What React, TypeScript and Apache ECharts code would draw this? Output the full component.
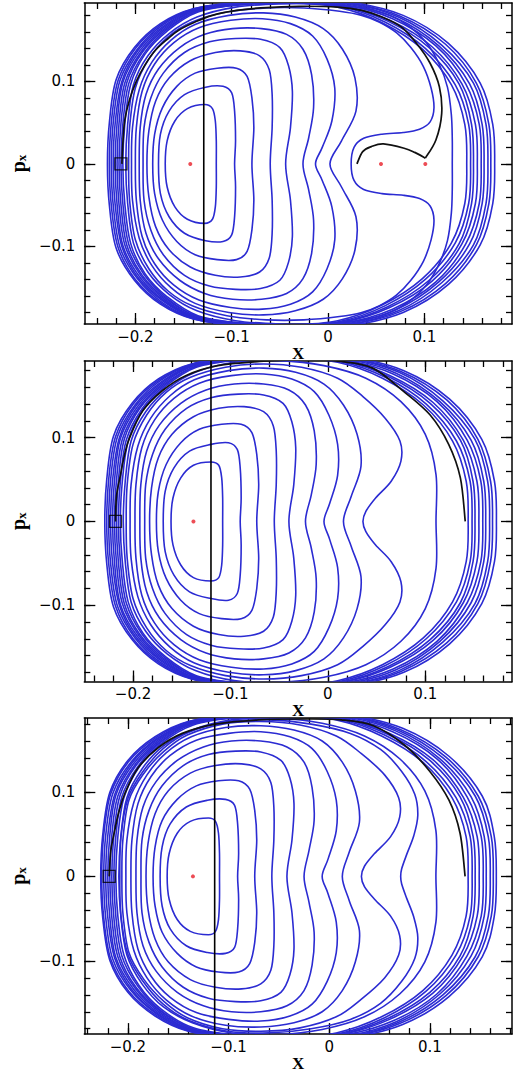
import React, { useEffect, useRef } from "react";
import * as echarts from "echarts";

type Pt = [number, number];

// ---------- axis ticks ----------
const X_MAJOR_TICKS = [-0.2, -0.1, 0, 0.1];
const X_MINOR_TICKS = [-0.24, -0.22, -0.2, -0.18, -0.16, -0.14, -0.12, -0.1, -0.08, -0.06, -0.04, -0.02, 0, 0.02, 0.04, 0.06, 0.08, 0.1, 0.12, 0.14, 0.16, 0.18];
const Y_MAJOR_TICKS = [-0.1, 0, 0.1];
const Y_MINOR_TICKS = [-0.18, -0.16, -0.14, -0.12, -0.1, -0.08, -0.06, -0.04, -0.02, 0, 0.02, 0.04, 0.06, 0.08, 0.1, 0.12, 0.14, 0.16, 0.18];

// ---------- axis extents (panel 1, 2, 3) ----------
const X_EXTENTS: Pt[] = [[-0.253, 0.191], [-0.25, 0.189], [-0.2433, 0.1816]];
const Y_EXTENTS: Pt[] = [[-0.194, 0.195], [-0.191, 0.1915], [-0.1864, 0.1872]];

// ---------- outer band of contours, panels 1-2 (upper halves, x, px) ----------
const BAND_C11: Pt[] = [[-0.213,0],[-0.211,0.048],[-0.205,0.096],[-0.190,0.133],[-0.167,0.161],[-0.135,0.184],[-0.089,0.193],[-0.040,0.195],[0.010,0.190],[0.056,0.171],[0.098,0.139],[0.128,0.096],[0.142,0.048],[0.144,0]];
const BAND_C12: Pt[] = [[-0.215,0],[-0.213,0.048],[-0.207,0.097],[-0.191,0.134],[-0.168,0.162],[-0.136,0.185],[-0.089,0.193],[-0.039,0.195],[0.012,0.191],[0.059,0.172],[0.101,0.140],[0.132,0.096],[0.146,0.048],[0.148,0]];
const BAND_C13: Pt[] = [[-0.217,0],[-0.215,0.049],[-0.209,0.098],[-0.193,0.135],[-0.169,0.163],[-0.136,0.185],[-0.089,0.194],[-0.039,0.196],[0.013,0.192],[0.062,0.173],[0.105,0.141],[0.136,0.097],[0.149,0.048],[0.151,0]];
const BAND_C14: Pt[] = [[-0.219,0],[-0.217,0.049],[-0.211,0.098],[-0.194,0.136],[-0.170,0.164],[-0.137,0.186],[-0.089,0.194],[-0.038,0.196],[0.015,0.192],[0.064,0.174],[0.108,0.142],[0.139,0.097],[0.153,0.048],[0.155,0]];
const BAND_C15: Pt[] = [[-0.221,0],[-0.219,0.049],[-0.213,0.099],[-0.1955,0.137],[-0.1705,0.1655],[-0.138,0.186],[-0.090,0.195],[-0.038,0.197],[0.016,0.193],[0.067,0.176],[0.112,0.143],[0.143,0.097],[0.157,0.048],[0.159,0]];
const BAND_C16: Pt[] = [[-0.223,0],[-0.221,0.049],[-0.214,0.100],[-0.197,0.138],[-0.171,0.1666],[-0.138,0.187],[-0.090,0.195],[-0.037,0.197],[0.018,0.194],[0.070,0.177],[0.115,0.143],[0.147,0.097],[0.160,0.048],[0.162,0]];
const BAND_C17: Pt[] = [[-0.225,0],[-0.223,0.050],[-0.216,0.101],[-0.198,0.139],[-0.172,0.168],[-0.139,0.187],[-0.090,0.195],[-0.036,0.197],[0.019,0.195],[0.073,0.178],[0.118,0.144],[0.151,0.098],[0.164,0.048],[0.166,0]];
const BAND_C18: Pt[] = [[-0.227,0],[-0.225,0.050],[-0.218,0.101],[-0.200,0.140],[-0.173,0.169],[-0.139,0.188],[-0.090,0.196],[-0.036,0.198],[0.021,0.195],[0.075,0.179],[0.122,0.145],[0.154,0.098],[0.167,0.048],[0.169,0]];
const BAND_C19: Pt[] = [[-0.229,0],[-0.227,0.050],[-0.220,0.102],[-0.201,0.141],[-0.174,0.170],[-0.140,0.188],[-0.090,0.196],[-0.035,0.198],[0.022,0.196],[0.078,0.180],[0.125,0.146],[0.158,0.098],[0.171,0.048],[0.173,0]];
const OUTER_BAND = [BAND_C11, BAND_C12, BAND_C13, BAND_C14, BAND_C15, BAND_C16, BAND_C17, BAND_C18, BAND_C19];

// ---------- panel 1 ----------
const P1_INNER: Pt[][] = [
  [[-0.169,0],[-0.167,0.028],[-0.159,0.052],[-0.146,0.067],[-0.128,0.072],[-0.120,0.067],[-0.117,0.052],[-0.116,0.028],[-0.116,0]],
  [[-0.176,0],[-0.174,0.036],[-0.165,0.064],[-0.149,0.084],[-0.127,0.093],[-0.109,0.094],[-0.100,0.086],[-0.097,0.064],[-0.096,0.028],[-0.097,0]],
  [[-0.182,0],[-0.180,0.036],[-0.172,0.068],[-0.157,0.094],[-0.138,0.110],[-0.115,0.116],[-0.095,0.116],[-0.084,0.106],[-0.079,0.080],[-0.077,0.044],[-0.079,0]],
  [[-0.188,0],[-0.186,0.040],[-0.179,0.076],[-0.165,0.104],[-0.143,0.125],[-0.117,0.135],[-0.091,0.137],[-0.071,0.131],[-0.061,0.114],[-0.058,0.084],[-0.058,0.044],[-0.060,0]],
  [[-0.192,0],[-0.191,0.044],[-0.184,0.080],[-0.171,0.110],[-0.149,0.135],[-0.123,0.148],[-0.096,0.152],[-0.070,0.151],[-0.050,0.141],[-0.041,0.119],[-0.037,0.088],[-0.039,0.044],[-0.044,0]],
  [[-0.196,0],[-0.195,0.044],[-0.189,0.084],[-0.176,0.115],[-0.154,0.141],[-0.128,0.157],[-0.099,0.164],[-0.069,0.164],[-0.043,0.157],[-0.026,0.139],[-0.017,0.108],[-0.015,0.068],[-0.020,0.032],[-0.026,0]],
  [[-0.200,0],[-0.199,0.044],[-0.193,0.088],[-0.180,0.121],[-0.160,0.147],[-0.134,0.165],[-0.101,0.174],[-0.068,0.176],[-0.039,0.170],[-0.016,0.155],[-0.001,0.127],[0.007,0.092],[0.004,0.052],[-0.006,0.020],[-0.013,0]],
  [[-0.204,0],[-0.203,0.044],[-0.196,0.090],[-0.183,0.123],[-0.163,0.150],[-0.138,0.169],[-0.103,0.180],[-0.067,0.183],[-0.034,0.178],[-0.005,0.164],[0.015,0.139],[0.028,0.104],[0.029,0.064],[0.014,0.028],[0.002,0]],
  [[-0.207,0],[-0.206,0.044],[-0.200,0.092],[-0.186,0.127],[-0.166,0.154],[-0.141,0.172],[-0.105,0.184],[-0.064,0.189],[-0.025,0.189],[0.012,0.185],[0.035,0.180],[0.053,0.172],[0.071,0.159],[0.086,0.141],[0.099,0.118],[0.107,0.092],[0.110,0.068],[0.106,0.051],[0.095,0.042],[0.078,0.038],[0.056,0.036],[0.037,0.031],[0.027,0.020],[0.024,0]],
  [[-0.210,0],[-0.208,0.048],[-0.202,0.096],[-0.187,0.131],[-0.165,0.158],[-0.136,0.178],[-0.096,0.190],[-0.050,0.194],[-0.004,0.194],[0.036,0.189],[0.064,0.180],[0.085,0.166],[0.102,0.147],[0.115,0.122],[0.124,0.093],[0.128,0.060],[0.129,0.030],[0.129,0]],
];
const P1_ORBIT_A: Pt[] = [[-0.214,0],[-0.213,0.025],[-0.211,0.053],[-0.206,0.078],[-0.199,0.100],[-0.190,0.120],[-0.179,0.138],[-0.166,0.152],[-0.155,0.162],[-0.138,0.172],[-0.120,0.180],[-0.095,0.186],[-0.070,0.189],[-0.030,0.191],[0.010,0.190],[0.035,0.186],[0.056,0.178],[0.076,0.166],[0.092,0.146],[0.106,0.122],[0.1156,0.0935],[0.118,0.061],[0.112,0.029],[0.101,0.007]];
const P1_ORBIT_B: Pt[] = [[0.101,0.007],[0.090,0.014],[0.079,0.019],[0.0575,0.0242],[0.045,0.021],[0.036,0.0149],[0.030,0]];
const P1_VLINE_X = -0.129;
const P1_DOTS: Pt[] = [[-0.143,0],[0.055,0],[0.101,0]];
const P1_SQUARE: Pt[] = [[-0.215,0]];

// ---------- panel 2 ----------
const P2_INNER: Pt[][] = [
  [[-0.161,0],[-0.159,0.028],[-0.151,0.052],[-0.138,0.067],[-0.120,0.071],[-0.112,0.067],[-0.109,0.052],[-0.108,0.028],[-0.108,0]],
  [[-0.169,0],[-0.167,0.036],[-0.158,0.064],[-0.142,0.084],[-0.120,0.092],[-0.102,0.094],[-0.093,0.086],[-0.090,0.064],[-0.089,0.028],[-0.090,0]],
  [[-0.176,0],[-0.174,0.036],[-0.166,0.068],[-0.151,0.094],[-0.132,0.110],[-0.109,0.116],[-0.089,0.116],[-0.078,0.106],[-0.073,0.080],[-0.071,0.044],[-0.073,0]],
  [[-0.183,0],[-0.181,0.040],[-0.174,0.076],[-0.160,0.104],[-0.138,0.125],[-0.112,0.135],[-0.086,0.137],[-0.066,0.131],[-0.056,0.114],[-0.053,0.084],[-0.053,0.044],[-0.055,0]],
  [[-0.188,0],[-0.187,0.044],[-0.180,0.080],[-0.167,0.110],[-0.145,0.135],[-0.119,0.148],[-0.092,0.152],[-0.066,0.151],[-0.046,0.141],[-0.037,0.119],[-0.033,0.088],[-0.035,0.044],[-0.040,0]],
  [[-0.193,0],[-0.192,0.044],[-0.186,0.084],[-0.173,0.115],[-0.151,0.141],[-0.125,0.157],[-0.096,0.164],[-0.066,0.164],[-0.040,0.157],[-0.023,0.139],[-0.014,0.108],[-0.012,0.068],[-0.017,0.032],[-0.023,0]],
  [[-0.198,0],[-0.197,0.044],[-0.191,0.088],[-0.178,0.121],[-0.158,0.147],[-0.132,0.165],[-0.099,0.174],[-0.066,0.176],[-0.037,0.170],[-0.014,0.155],[0.001,0.127],[0.010,0.092],[0.010,0.055],[0.002,0.022],[-0.004,0]],
  [[-0.203,0],[-0.202,0.044],[-0.195,0.090],[-0.182,0.123],[-0.162,0.150],[-0.137,0.169],[-0.102,0.180],[-0.066,0.183],[-0.033,0.178],[-0.004,0.164],[0.016,0.139],[0.030,0.104],[0.034,0.066],[0.024,0.030],[0.016,0]],
  [[-0.207,0],[-0.206,0.044],[-0.200,0.092],[-0.186,0.127],[-0.166,0.154],[-0.141,0.172],[-0.105,0.184],[-0.066,0.188],[-0.027,0.184],[0.010,0.171],[0.036,0.149],[0.059,0.123],[0.074,0.096],[0.075,0.072],[0.065,0.048],[0.049,0.028],[0.039,0.012],[0.036,0]],
  [[-0.210,0],[-0.208,0.048],[-0.202,0.096],[-0.187,0.131],[-0.165,0.158],[-0.136,0.178],[-0.096,0.190],[-0.050,0.192],[-0.004,0.186],[0.039,0.171],[0.075,0.143],[0.100,0.104],[0.111,0.056],[0.111,0]],
];
const P2_ORBIT: Pt[] = [[-0.218,0],[-0.217,0.030],[-0.213,0.055],[-0.209,0.078],[-0.2035,0.100],[-0.190,0.132],[-0.170,0.156],[-0.146,0.174],[-0.113,0.186],[-0.070,0.191],[-0.027,0.193],[0.013,0.191],[0.046,0.183],[0.078,0.155],[0.105,0.127],[0.124,0.092],[0.136,0.052],[0.141,0]];
const P2_VLINE_X = -0.12;
const P2_DOTS: Pt[] = [[-0.138,0]];
const P2_SQUARE: Pt[] = [[-0.218,0]];

// ---------- panel 3 ----------
const P3_INNER: Pt[][] = [
  [[-0.161,0],[-0.159,0.027],[-0.151,0.051],[-0.138,0.065],[-0.120,0.069],[-0.113,0.065],[-0.110,0.051],[-0.109,0.027],[-0.109,0]],
  [[-0.168,0],[-0.166,0.035],[-0.158,0.062],[-0.142,0.082],[-0.121,0.090],[-0.103,0.091],[-0.094,0.084],[-0.091,0.062],[-0.090,0.027],[-0.091,0]],
  [[-0.175,0],[-0.173,0.035],[-0.166,0.066],[-0.151,0.091],[-0.132,0.107],[-0.110,0.113],[-0.090,0.113],[-0.079,0.103],[-0.074,0.078],[-0.072,0.043],[-0.074,0]],
  [[-0.182,0],[-0.180,0.039],[-0.173,0.074],[-0.160,0.101],[-0.138,0.122],[-0.113,0.131],[-0.087,0.133],[-0.068,0.127],[-0.058,0.111],[-0.055,0.082],[-0.055,0.043],[-0.057,0]],
  [[-0.187,0],[-0.186,0.043],[-0.179,0.078],[-0.166,0.107],[-0.145,0.131],[-0.120,0.144],[-0.093,0.148],[-0.068,0.147],[-0.048,0.137],[-0.039,0.116],[-0.035,0.086],[-0.037,0.043],[-0.042,0]],
  [[-0.192,0],[-0.191,0.043],[-0.185,0.082],[-0.172,0.112],[-0.151,0.137],[-0.125,0.153],[-0.097,0.160],[-0.068,0.160],[-0.042,0.153],[-0.025,0.135],[-0.017,0.105],[-0.015,0.066],[-0.020,0.031],[-0.025,0]],
  [[-0.197,0],[-0.196,0.043],[-0.190,0.086],[-0.177,0.118],[-0.158,0.143],[-0.132,0.161],[-0.100,0.169],[-0.068,0.171],[-0.039,0.165],[-0.017,0.151],[-0.002,0.124],[0.007,0.090],[0.007,0.054],[-0.001,0.021],[-0.007,0]],
  [[-0.202,0],[-0.201,0.043],[-0.194,0.088],[-0.181,0.120],[-0.162,0.146],[-0.137,0.165],[-0.103,0.176],[-0.068,0.178],[-0.035,0.173],[-0.007,0.160],[0.013,0.135],[0.026,0.101],[0.030,0.064],[0.020,0.029],[0.013,0]],
  [[-0.206,0],[-0.205,0.043],[-0.199,0.090],[-0.184,0.122],[-0.164,0.148],[-0.141,0.167],[-0.106,0.180],[-0.068,0.183],[-0.029,0.179],[0.007,0.166],[0.032,0.145],[0.055,0.120],[0.069,0.093],[0.070,0.070],[0.061,0.047],[0.045,0.027],[0.035,0.012],[0.032,0]],
  [[-0.208,0],[-0.207,0.046],[-0.200,0.092],[-0.185,0.124],[-0.165,0.151],[-0.140,0.170],[-0.101,0.183],[-0.060,0.185],[-0.018,0.180],[0.021,0.169],[0.051,0.150],[0.072,0.124],[0.085,0.097],[0.088,0.072],[0.084,0.048],[0.077,0.026],[0.072,0.009],[0.071,0]],
  [[-0.209,0],[-0.207,0.047],[-0.201,0.093],[-0.186,0.127],[-0.165,0.154],[-0.136,0.173],[-0.097,0.185],[-0.052,0.187],[-0.007,0.181],[0.035,0.166],[0.070,0.139],[0.095,0.101],[0.106,0.054],[0.106,0]],
];
const P3_BAND: Pt[][] = [
  [[-0.212,0],[-0.210,0.047],[-0.204,0.093],[-0.189,0.129],[-0.167,0.157],[-0.135,0.179],[-0.090,0.188],[-0.042,0.190],[0.007,0.185],[0.052,0.166],[0.093,0.135],[0.122,0.093],[0.136,0.047],[0.138,0]],
  [[-0.214,0],[-0.212,0.047],[-0.206,0.094],[-0.190,0.130],[-0.168,0.158],[-0.136,0.180],[-0.090,0.188],[-0.041,0.190],[0.009,0.186],[0.055,0.167],[0.096,0.136],[0.126,0.093],[0.140,0.047],[0.142,0]],
  [[-0.216,0],[-0.214,0.048],[-0.208,0.095],[-0.192,0.131],[-0.168,0.159],[-0.136,0.180],[-0.090,0.189],[-0.041,0.191],[0.010,0.187],[0.058,0.168],[0.100,0.137],[0.130,0.094],[0.143,0.047],[0.145,0]],
  [[-0.218,0],[-0.216,0.048],[-0.210,0.095],[-0.193,0.132],[-0.169,0.160],[-0.137,0.181],[-0.090,0.189],[-0.040,0.191],[0.012,0.187],[0.060,0.169],[0.103,0.138],[0.133,0.094],[0.147,0.047],[0.149,0]],
  [[-0.220,0],[-0.218,0.048],[-0.212,0.096],[-0.1945,0.133],[-0.170,0.161],[-0.138,0.181],[-0.091,0.190],[-0.040,0.192],[0.013,0.188],[0.063,0.171],[0.107,0.139],[0.137,0.094],[0.151,0.047],[0.153,0]],
  [[-0.222,0],[-0.220,0.048],[-0.213,0.097],[-0.196,0.134],[-0.171,0.162],[-0.138,0.182],[-0.091,0.190],[-0.039,0.192],[0.015,0.189],[0.066,0.172],[0.110,0.139],[0.141,0.094],[0.154,0.047],[0.156,0]],
  [[-0.224,0],[-0.222,0.049],[-0.215,0.098],[-0.197,0.135],[-0.171,0.163],[-0.139,0.182],[-0.091,0.190],[-0.038,0.192],[0.016,0.190],[0.068,0.173],[0.113,0.140],[0.145,0.095],[0.158,0.047],[0.160,0]],
  [[-0.226,0],[-0.224,0.049],[-0.217,0.098],[-0.199,0.136],[-0.172,0.164],[-0.139,0.183],[-0.091,0.191],[-0.038,0.193],[0.018,0.190],[0.070,0.174],[0.116,0.141],[0.148,0.095],[0.161,0.047],[0.163,0]],
  [[-0.227,0],[-0.225,0.049],[-0.218,0.099],[-0.200,0.137],[-0.173,0.165],[-0.140,0.183],[-0.091,0.191],[-0.037,0.193],[0.018,0.191],[0.073,0.175],[0.119,0.142],[0.152,0.095],[0.164,0.047],[0.166,0]],
];
const P3_ORBIT: Pt[] = [[-0.2186,0],[-0.217,0.030],[-0.213,0.055],[-0.209,0.076],[-0.203,0.098],[-0.190,0.128],[-0.170,0.152],[-0.146,0.169],[-0.113,0.180],[-0.070,0.185],[-0.027,0.186],[0.012,0.185],[0.044,0.178],[0.075,0.155],[0.100,0.124],[0.119,0.090],[0.130,0.051],[0.135,0]];
const P3_VLINE_X = -0.1138;
const P3_DOTS: Pt[] = [[-0.1354,0]];
const P3_SQUARE: Pt[] = [[-0.2186,0]];

const BLUE = "#2b2bd2";

// contours are symmetric about px = 0: append mirrored lower half (closed loop, no duplicate end point)
function closeAcrossAxis(half: Pt[]): Pt[] {
  const lower = half.slice(1, -1).reverse().map(([x, y]) => [x, -y] as Pt);
  return [...half, ...lower];
}

// Catmull-Rom spline through pixel points -> SVG path (rendering only)
function splinePath(pts: number[][], closed: boolean): string {
  const n = pts.length;
  if (n < 2) return "";
  const get = (i: number) => (closed ? pts[(i + n) % n] : pts[Math.max(0, Math.min(n - 1, i))]);
  let d = `M${pts[0][0].toFixed(2)},${pts[0][1].toFixed(2)}`;
  const segs = closed ? n : n - 1;
  for (let i = 0; i < segs; i++) {
    const p0 = get(i - 1), p1 = get(i), p2 = get(i + 1), p3 = get(i + 2);
    const c1x = p1[0] + (p2[0] - p0[0]) / 6, c1y = p1[1] + (p2[1] - p0[1]) / 6;
    const c2x = p2[0] - (p3[0] - p1[0]) / 6, c2y = p2[1] - (p3[1] - p1[1]) / 6;
    d += ` C${c1x.toFixed(2)},${c1y.toFixed(2)} ${c2x.toFixed(2)},${c2y.toFixed(2)} ${p2[0].toFixed(2)},${p2[1].toFixed(2)}`;
  }
  if (closed) d += " Z";
  return d;
}

function fmt(v: number): string {
  if (Math.abs(v) < 1e-9) return "0";
  const s = String(Math.round(Math.abs(v) * 100) / 100);
  return (v < 0 ? "\u2212" : "") + s;
}

function curveSeries(curves: Pt[][], closed: boolean, axisIdx: number, color: string, width: number, z: number) {
  return {
    type: "custom",
    coordinateSystem: "cartesian2d",
    xAxisIndex: axisIdx,
    yAxisIndex: axisIdx,
    silent: true,
    clip: true,
    z,
    data: curves.map((c, k) => [c[0][0], c[0][1], k]),
    encode: { x: 0, y: 1 },
    renderItem: (params: any, api: any) => {
      const k = api.value(2);
      const src = closed ? closeAcrossAxis(curves[k]) : curves[k];
      const pts = src.map((p) => api.coord(p));
      const cs = params.coordSys;
      return {
        type: "path",
        shape: { pathData: splinePath(pts, closed) },
        style: { stroke: color, fill: "none", lineWidth: width },
        clipPath: { type: "rect", shape: { x: cs.x, y: cs.y, width: cs.width, height: cs.height } },
        silent: true,
      };
    },
  };
}

function buildOption() {
  const grids = [
    { left: 66, top: 3, width: 446, height: 321 },
    { left: 66, top: 361, width: 446, height: 320.5 },
    { left: 66, top: 718, width: 446, height: 321 },
  ];
  const panels = [
    { contours: [...P1_INNER, ...OUTER_BAND], orbits: [P1_ORBIT_A, P1_ORBIT_B], vx: P1_VLINE_X, dots: P1_DOTS, sq: P1_SQUARE },
    { contours: [...P2_INNER, ...OUTER_BAND], orbits: [P2_ORBIT], vx: P2_VLINE_X, dots: P2_DOTS, sq: P2_SQUARE },
    { contours: [...P3_INNER, ...P3_BAND], orbits: [P3_ORBIT], vx: P3_VLINE_X, dots: P3_DOTS, sq: P3_SQUARE },
  ];
  const xAxis: any[] = [];
  const yAxis: any[] = [];
  const series: any[] = [];
  const axisLineOn = { show: true, onZero: false, lineStyle: { color: "#000", width: 1.5 } };
  const axisLineOff = { show: false, onZero: false };
  const tick = (vals: number[], len: number) => ({ show: true, inside: true, length: len, customValues: vals, lineStyle: { color: "#000", width: 1.3 } });
  const labelStyle = { fontFamily: "DejaVu Sans", fontSize: 15, color: "#000" };

  grids.forEach((g, i) => {
    const [xmin, xmax] = X_EXTENTS[i];
    const [ymin, ymax] = Y_EXTENTS[i];
    const cx = { type: "value", gridIndex: i, min: xmin, max: xmax, splitLine: { show: false }, silent: true };
    const cy = { type: "value", gridIndex: i, min: ymin, max: ymax, splitLine: { show: false }, silent: true };
    xAxis.push(
      { ...cx, position: "bottom", axisLine: axisLineOn, axisTick: tick(X_MAJOR_TICKS, 11),
        axisLabel: { show: true, customValues: X_MAJOR_TICKS, formatter: fmt, margin: 5, ...labelStyle },
        name: "X", nameLocation: "middle", nameGap: 19,
        nameTextStyle: { fontFamily: "Liberation Serif", fontWeight: "bold", fontSize: 17, color: "#000" } },
      { ...cx, position: "bottom", axisLine: axisLineOff, axisTick: tick(X_MINOR_TICKS, 6), axisLabel: { show: false } },
      { ...cx, position: "top", axisLine: axisLineOn, axisTick: tick(X_MAJOR_TICKS, 11), axisLabel: { show: false } },
      { ...cx, position: "top", axisLine: axisLineOff, axisTick: tick(X_MINOR_TICKS, 6), axisLabel: { show: false } },
    );
    yAxis.push(
      { ...cy, position: "left", axisLine: axisLineOn, axisTick: tick(Y_MAJOR_TICKS, 11),
        axisLabel: { show: true, customValues: Y_MAJOR_TICKS, formatter: fmt, margin: 9, ...labelStyle },
        name: "{p|p}{s|x}", nameLocation: "middle", nameGap: 36, nameRotate: 90,
        nameTextStyle: { color: "#000", rich: {
          p: { fontFamily: "Liberation Serif", fontWeight: "bold", fontSize: 20, lineHeight: 22, verticalAlign: "bottom" },
          s: { fontFamily: "Liberation Serif", fontWeight: "bold", fontSize: 13, lineHeight: 18, verticalAlign: "bottom" },
        } } },
      { ...cy, position: "left", axisLine: axisLineOff, axisTick: tick(Y_MINOR_TICKS, 6), axisLabel: { show: false } },
      { ...cy, position: "right", axisLine: axisLineOn, axisTick: tick(Y_MAJOR_TICKS, 11), axisLabel: { show: false } },
      { ...cy, position: "right", axisLine: axisLineOff, axisTick: tick(Y_MINOR_TICKS, 6), axisLabel: { show: false } },
    );
    const ai = 4 * i;
    const p = panels[i];
    series.push(curveSeries(p.contours, true, ai, BLUE, 1.6, 2));
    series.push(curveSeries(p.orbits, false, ai, "#111", 1.7, 3));
    series.push({ type: "line", xAxisIndex: ai, yAxisIndex: ai, data: [[p.vx, ymin], [p.vx, ymax]], symbol: "none",
      silent: true, z: 4, lineStyle: { color: "#000", width: 1.6 } });
    series.push({ type: "scatter", xAxisIndex: ai, yAxisIndex: ai, data: p.sq, symbol: "rect", symbolSize: 12, silent: true, z: 5,
      itemStyle: { color: "rgba(0,0,0,0)", borderColor: "#000", borderWidth: 1.3 } });
    series.push({ type: "scatter", xAxisIndex: ai, yAxisIndex: ai, data: p.dots, symbol: "circle", symbolSize: 4, silent: true, z: 6,
      itemStyle: { color: "#e8202a" } });
  });

  return { animation: false, backgroundColor: "#fff", grid: grids, xAxis, yAxis, series };
}

export default function App() {
  const ref = useRef<HTMLDivElement>(null);
  useEffect(() => {
    document.body.style.margin = "0";
    const chart = echarts.init(ref.current!, undefined, { renderer: "svg" });
    chart.setOption(buildOption() as any);
    return () => chart.dispose();
  }, []);
  return <div ref={ref} style={{ width: 520, height: 1073 }} />;
}
